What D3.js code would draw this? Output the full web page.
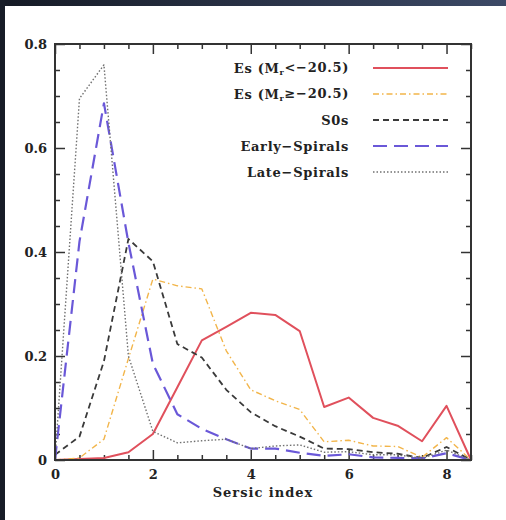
<!DOCTYPE html>
<html>
<head>
<meta charset="utf-8">
<script src="https://cdn.jsdelivr.net/npm/d3@7"></script>
<style>
  body { margin: 0; background: #fff; }
  svg { display: block; }
  .tick text { font-family: "DejaVu Serif", serif; font-weight: bold; font-size: 13px; fill: #222; }
</style>
</head>
<body>
<div id="chart"></div>
<script>
// sersic index bins
const sersic = [0, 0.5, 1, 1.5, 2, 2.5, 3, 3.5, 4, 4.5, 5, 5.5, 6, 6.5, 7, 7.5, 8, 8.5];

// fractions per bin
const esBright = [0, 0.002, 0.004, 0.015, 0.05, 0.14, 0.23, 0.256, 0.283, 0.279, 0.248, 0.102, 0.12, 0.081, 0.066, 0.036, 0.104, 0];
const esFaint  = [0, 0.004, 0.04, 0.195, 0.348, 0.335, 0.329, 0.21, 0.135, 0.114, 0.097, 0.035, 0.038, 0.027, 0.026, 0.005, 0.043, 0];
const s0s      = [0.01, 0.045, 0.19, 0.425, 0.382, 0.223, 0.197, 0.135, 0.092, 0.065, 0.045, 0.022, 0.021, 0.015, 0.012, 0.004, 0.025, 0];
const earlySp  = [0, 0.42, 0.686, 0.418, 0.185, 0.088, 0.06, 0.04, 0.022, 0.022, 0.014, 0.008, 0.011, 0.005, 0.004, 0.003, 0.013, 0];
const lateSp   = [0, 0.695, 0.76, 0.2, 0.055, 0.033, 0.037, 0.04, 0.022, 0.027, 0.029, 0.015, 0.016, 0.01, 0.01, 0.003, 0.019, 0];

const xMajor = [0, 2, 4, 6, 8];
const xMinor = [0.5, 1, 1.5, 2.5, 3, 3.5, 4.5, 5, 5.5, 6.5, 7, 7.5, 8.5];
const yMajor = [0, 0.2, 0.4, 0.6, 0.8];
const yMinor = [0.05, 0.1, 0.15, 0.25, 0.3, 0.35, 0.45, 0.5, 0.55, 0.65, 0.7, 0.75];

const series = [
    {name: "bright", vals: esBright, color: "#e0505c", width: 2, dash: null},
    {name: "faint", vals: esFaint, color: "#f2b54a", width: 1.4, dash: "6,3,1.5,3"},
    {name: "s0", vals: s0s, color: "#3a3a3a", width: 1.8, dash: "6,4"},
    {name: "early", vals: earlySp, color: "#6a58d8", width: 2.2, dash: "14,7"},
    {name: "late", vals: lateSp, color: "#707070", width: 1.4, dash: "1.5,2"}
];

const W = 506, H = 520;
const svg = d3.select("#chart").append("svg").attr("width", W).attr("height", H);

// dark frame of the screenshot
const grad = svg.append("defs").append("linearGradient").attr("id", "band");
grad.append("stop").attr("offset", "0%").attr("stop-color", "#151a25");
grad.append("stop").attr("offset", "100%").attr("stop-color", "#3c4966");
svg.append("rect").attr("x", 0).attr("y", 0).attr("width", W).attr("height", 6).attr("fill", "url(#band)");
svg.append("rect").attr("x", 0).attr("y", 0).attr("width", 5).attr("height", H).attr("fill", "#171c27");

const x = d3.scaleLinear().domain([0, 8.5]).range([55, 471]);
const y = d3.scaleLinear().domain([0, 0.8]).range([460, 44]);

const g = svg.append("g");

function addAxis(axis, vals, size, tr, labels) {
    let a = axis.tickValues(vals).tickSize(size);
    if (!labels) a = a.tickFormat("");
    const ax = g.append("g").attr("transform", tr).call(a);
    ax.select(".domain").remove();
    ax.selectAll(".tick line").attr("stroke", "#333").attr("stroke-width", 1.5);
    return ax;
}

const yFmt = d => d === 0 ? "0" : d3.format(".1f")(d);

addAxis(d3.axisBottom(x).tickPadding(10), xMajor, -10, "translate(0,460)", true);
addAxis(d3.axisBottom(x), xMinor, -5, "translate(0,460)", false);
addAxis(d3.axisTop(x), xMajor, -10, "translate(0,44)", false);
addAxis(d3.axisTop(x), xMinor, -5, "translate(0,44)", false);
addAxis(d3.axisLeft(y).tickPadding(8).tickFormat(yFmt), yMajor, -10, "translate(55,0)", true);
addAxis(d3.axisLeft(y), yMinor, -5, "translate(55,0)", false);
addAxis(d3.axisRight(y), yMajor, -10, "translate(471,0)", false);
addAxis(d3.axisRight(y), yMinor, -5, "translate(471,0)", false);

const line = d3.line().x((d, i) => x(sersic[i])).y(d => y(d));

g.selectAll("path.series").data(series).enter().append("path")
    .attr("class", "series")
    .attr("d", d => line(d.vals))
    .attr("fill", "none")
    .attr("stroke", d => d.color)
    .attr("stroke-width", d => d.width)
    .attr("stroke-dasharray", d => d.dash)
    .attr("stroke-linejoin", "round");

// frame
g.append("rect")
    .attr("x", x(0)).attr("y", y(0.8))
    .attr("width", x(8.5) - x(0)).attr("height", y(0) - y(0.8))
    .attr("fill", "none").attr("stroke", "#333").attr("stroke-width", 2);

// legend
const legendLabels = [
    ["Es (M", "r", "<−20.5)"],
    ["Es (M", "r", "≥−20.5)"],
    ["S0s"],
    ["Early−Spirals"],
    ["Late−Spirals"]
];

const leg = g.append("g").attr("font-family", "DejaVu Serif, serif").attr("font-weight", "bold")
    .attr("font-size", 13).attr("letter-spacing", 0.7).attr("fill", "#222");

legendLabels.forEach(function(parts, i) {
    const yy = 68 + i * 26;
    const t = leg.append("text").attr("x", 349).attr("y", yy).attr("dy", "0.35em").attr("text-anchor", "end");
    t.append("tspan").text(parts[0]);
    if (parts.length > 1) {
        t.append("tspan").attr("font-size", 8).attr("dy", "0.35em").text(parts[1]);
        t.append("tspan").attr("dy", "-0.25em").text(parts[2]);
    }
    const s = series[i];
    leg.append("line")
        .attr("x1", 373).attr("x2", 448).attr("y1", yy).attr("y2", yy)
        .attr("stroke", s.color).attr("stroke-width", s.width)
        .attr("stroke-dasharray", s.dash);
});

g.append("text")
    .attr("x", (x(0) + x(8.5)) / 2).attr("y", 497)
    .attr("text-anchor", "middle")
    .attr("font-family", "DejaVu Serif, serif").attr("font-weight", "bold")
    .attr("font-size", 13).attr("letter-spacing", 1).attr("fill", "#222")
    .text("Sersic index");
</script>
</body>
</html>
